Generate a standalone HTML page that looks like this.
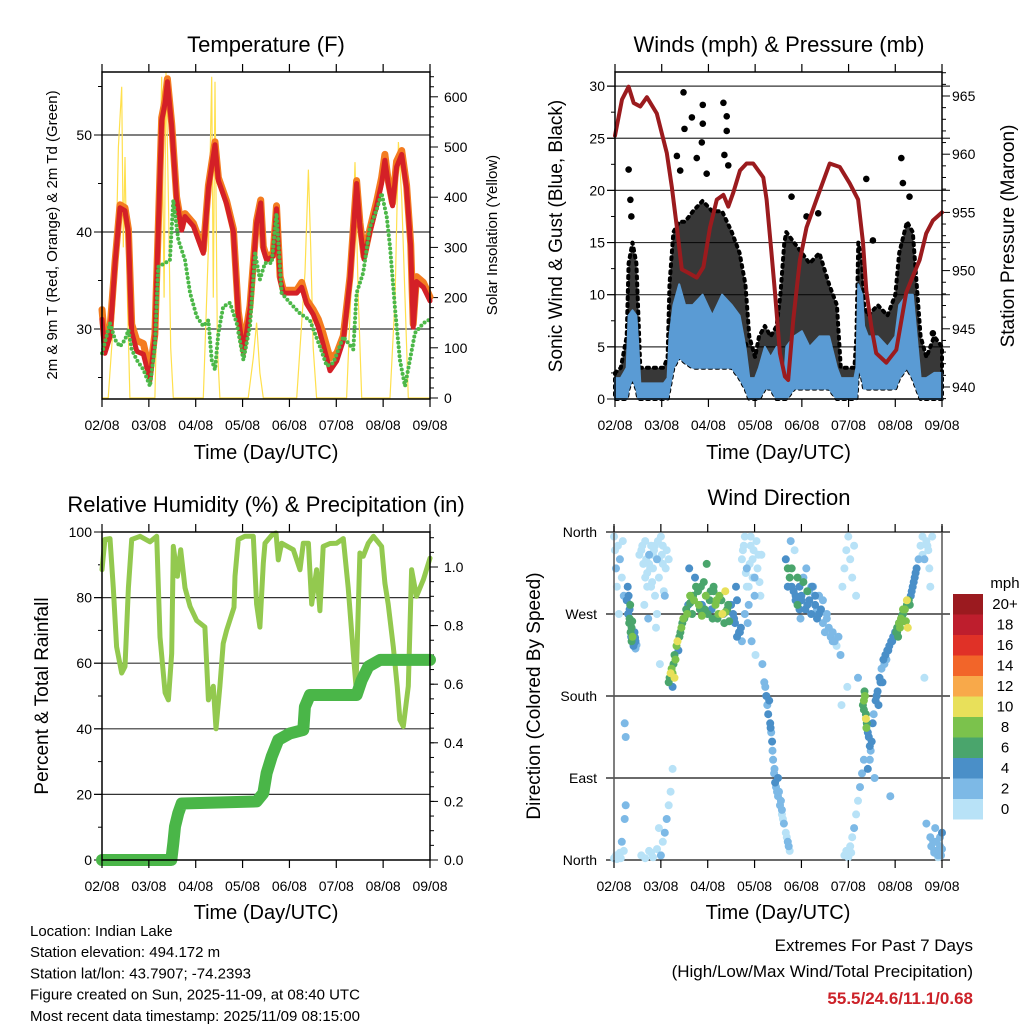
<!DOCTYPE html>
<html><head><meta charset="utf-8"><style>
html,body{margin:0;padding:0;background:#fff}
svg{display:block;font-family:"Liberation Sans",sans-serif}
</style></head><body>
<svg id="root" width="1024" height="1024" viewBox="0 0 1024 1024"></svg>
<script>
// ---------- Temperature panel data ----------
const tempHours=[0,1.5,4.1,6.7,9.2,11.8,13.5,15.2,17.8,21.2,24.6,27.1,28.8,30.6,32.3,33.5,35.7,38.2,40.8,42.5,46.8,51.9,54.5,57.9,59.6,63.8,67.3,69.8,72.4,75.8,79.2,81.3,82.6,84.3,87.7,89.4,91.2,92.9,99.7,102.3,104.8,108.2,110.8,113.3,116.8,120.2,123.6,127,130.4,132.1,134.2,137.2,140.7,143.2,144.9,146.6,148.8,150.9,153.5,156,158.1,159.4,161.1,164.6,168];
const temp2m=[31,27.5,29.2,36.8,42.5,42.2,40,29.7,27.7,27.4,24.7,29.2,40,51.5,53.3,55.5,50.9,43.3,40.2,41.6,40.6,37.8,44.5,49,45.3,42.9,40,31.3,27.5,32,40.9,43,38.2,37.1,37.5,42.4,35.1,33.7,33.7,34.3,32.6,31.5,30.2,28.4,25.7,26.7,28.8,35.1,45,40.6,37.2,40,42.7,45,47.4,45,42.7,46.7,48,44.5,38.5,30.2,34.9,34.3,32.9];
const temp9m=[32,28.5,30,37,42.8,42.5,40.3,30.5,28.8,28.5,25.5,29.5,40.3,51.8,53.6,55.8,51.2,43.6,40.5,41.9,40.9,38.1,44.8,49.3,45.6,43.2,40.3,31.8,28,32.4,41.2,43.3,38.5,37.4,37.8,42.7,35.4,34,34,34.8,33,32,31,29.5,27,27.5,29.3,35.4,45.3,41,37.5,40.3,43.2,45.6,48,45.3,43,47.3,48.4,44.8,38.8,30.5,35.4,34.8,33.3];
const dewHours=[0,4.1,6.7,9.2,11.8,13.5,15.2,17.8,21.2,24.6,27.1,28.8,32.3,34.8,36.5,39.1,42.5,45.1,48.5,51.9,54.5,56.2,57.9,59.6,62.1,65.5,69,72.4,75.8,78.4,80.9,83.5,86.9,89.4,92,96.3,101.4,106.5,111.6,115.1,118.5,123.6,128.7,130.4,133.8,137.2,140.7,143.2,145.8,147.5,150.1,152.6,155.2,157.7,160.3,164.6,168];
const dewPoint=[27.5,30.6,28.9,28.2,28.9,29.9,27.9,26.8,25.8,24.1,28.2,36.4,36.8,37.1,43.3,39.2,37.1,33.7,31.3,30.3,30.9,26.8,25.8,29.6,32.3,32.7,30.6,26.8,30.3,37.8,35.1,36.8,36.8,41.9,33.7,32.7,31.6,30.9,28.2,26.2,26.5,29.2,27.9,33.7,35.8,40.5,42.3,44,41.6,38.5,32,26.8,24.1,26.8,29.6,30.6,31];
const solarHours=[0,3.2,6.7,8.4,10.1,10.9,11.8,13,14.3,27.1,28.8,30.6,31.8,32.8,34,35.2,36.5,51.9,54.5,56.2,57,57.9,59.1,60.4,74.9,77.5,79.2,80.9,82.6,99.7,102.3,104,105.7,106.9,108.2,109.9,125.3,127.9,129.6,131.3,133,147.5,150.1,151.8,153.5,155.2,156.9,168];
const solarValues=[0,0,200,500,620,300,480,200,0,0,300,640,200,650,400,100,0,0,300,640,200,630,100,0,0,80,150,50,0,0,150,250,455,300,100,0,0,250,470,200,0,0,200,510,400,200,0,0];
const dayLabels=['02/08','03/08','04/08','05/08','06/08','07/08','08/08','09/08'];
const tempTicks=[30,40,50];
const solarTicks=[0,100,200,300,400,500,600];
// ---------- Wind panel data ----------
const windHours=[0,3,6,7,9,11,12,13,15,20,25,27,28,30,33,36,40,45,50,55,60,64,67,69,72,74,77,80,83,85,87,88,92,96,100,105,110,114,116,120,123,124,125,127,128,130,135,140,144,146,150,153,155,157,160,164,168];
const windHigh=[2,2,3,8,8.5,8,5,1.5,1.5,1.5,1.5,2,6,9,11,9,9,10,8,10,9,8,5,2,2,3,5,4,5,3,2,5,6,6.5,5,6,6,3,2,2,2,3,11,10,7,6,6,5,6,9,10,10,6,2,2,2.5,2.5];
const windLow=[0,0,0,1,2,1,0,0,0,0,0,0,1,3,4,3.5,3,3,3,3,3,2,1,0,0,0,1,1,0,0,0,0,1,1,1,1,1,0,0,0,0,0,3,2,1,1,1,1,1,2,3,2,1,0,0,0,0];
const gustTop=[2.5,3,6,13,15,13,8,3,3,3,3,4,11,16,17,17,18,19,18,18,16,14,11,6,4,6,7,6,7,10,15,16,15,14,13,14,11,9,3,3,3,6,15,13,9,8,9,8,10,14,17,16,11,6,4,6,5];
const gustPeakHours=[35.2,35.7,39.5,45.1,45.1,44.6,55.7,57.4,57.4,31.8,42,56.2,7,147.1,129.1,90.7,147.9,104.4,33.5,47.1,58.2,7.9,8.4,98.4,151.3,132.5,163.3,66.8];
const gustPeakValues=[29.4,25.9,27,28.2,26.4,24.6,28.4,27.1,25.7,23.3,23.1,23.4,22,23.1,21.1,19.4,20.7,17.8,21.9,21.6,22.4,19.1,17.5,17.5,19.4,15.2,6.3,5.2];
const pressHours=[0,3.6,7,9.6,13,16.4,21.5,26.6,29.2,31.8,34.3,37.7,42,45.4,48.8,52.3,55.7,58.2,60.8,64.2,67.6,71,76.2,77.9,80.4,82.2,84.7,87.3,89,91.6,95,98.4,103.5,110.3,115.5,120.6,124.9,127.4,129.1,131.7,134.2,139.4,144.5,149.6,153,156.5,159.9,163.3,168];
const pressValues=[961.6,964.7,965.8,964.4,964.1,964.9,963.5,960.1,957.2,953.7,950.1,949.8,949.4,950.3,953.7,956.1,956.5,955.5,956.7,958.6,959.2,959.2,958,956.1,951.5,948.1,942.9,940.9,940.6,945.8,950.9,953.7,956.1,959.2,958.9,957.5,956.1,952.4,948.3,945.2,942.9,942.1,943.2,948.1,949.5,950.9,953.2,954.3,955];
const windTicks=[0,5,10,15,20,25,30];
const pressTicks=[940,945,950,955,960,965];
// ---------- RH panel data ----------
const rhHours=[0,1.5,4.1,5.8,7.5,10.1,11.8,13.5,15.2,19.5,24.6,28,29.7,32.3,34,35.7,36.5,38.6,40.3,42.5,45.1,48.5,52.7,54.5,57,58.4,60.4,62.1,63.8,67.6,68.1,69.8,73.2,77.5,79.2,80.9,82.6,83.5,86.9,89.1,90.3,92,98,101.4,103.1,105.7,107.4,109.9,111.6,113.3,116.8,120.2,123.6,126.1,128.7,130.1,132.1,133.8,136.4,139,143.2,144.9,146.6,149.2,151.2,152.6,154.3,156.9,158.6,161.1,164.6,168];
const rhValues=[88.5,97.7,98,83,65,57,59,83,97.7,98.7,97,98.7,68,51,48.8,63,95.6,86.5,94.6,83,77.3,73,71,48.8,53,40,53,66,70,77,86.5,97.7,98.7,98.7,78,71,90.5,96.6,99,99.7,91.5,96.6,94.6,88.5,96.6,96.6,78,88.5,76,95.6,96.5,96.6,98,83,63,53,93.6,92.6,96.6,98.7,95.6,84.4,78,65,53,42.7,40.7,53,88.5,80.4,85.5,92];
const precipHours=[0,35.5,36.5,37.4,39.1,40.8,79.2,82.6,84.3,86.9,90.3,96.3,103.1,103.9,106.5,130.4,133,136.4,142.4,168];
const precipValues=[0,0,0.057,0.114,0.16,0.193,0.2,0.228,0.296,0.353,0.41,0.432,0.444,0.523,0.563,0.563,0.614,0.66,0.683,0.683];
const rhTicks=[0,20,40,60,80,100];
const precipTicks=[0,0.2,0.4,0.6,0.8,1.0];
// ---------- Wind direction panel data ----------
const dirHours=[0,0.5,1,1.5,2,3,4,4.5,5,2.5, 0,1,2,3,4,5,1.5,3.5,5.5,6, 7,7.5,8,8,8.5,9,9,9.5,10,10.5,11,11,5.5,6,
14,15,16,17,18,19,20,21,22,23,24,25,26,27,15.5,17.5,19.5,21.5,23.5,25.5, 14,16,18,20,22,24,25,26,27,28,29,30,23,19,
28,28.5,29,29.5,30,30.5,31,31.5,32,32.5,33,33.5,34,34.5,35,35.5,30,31,
36,37,38,39,40,41,42,43,44,45,46,47,48,49,50,51,52,53,54,55,56,57,58,59,60,61,62,63,64,65,38.5,41.5,44.5,47.5,50.5,53.5,56.5,59.5,62.5,65.5,
66,67,68,69,70,71,72,73,74,75,68.5,70.5,72.5, 76,77,78,79,80,80.5,81,81.5,82,82.5,83,84,85,86,87,88,89,90,79.5,84.5,
88,89,90,91,92,93,94,95,96,97,98,99,100,101,102,103,104,105,106,107,108,109,110,111,112,90.5,92.5,95.5,98.5,101.5,
112,113,114,115,116,117,118,119,120,121,122,123,124,125,116.5,119.5, 118,119,120,121,122,123,124,125,126,127,128,121.5,
127.5,128,128,128.5,129,129,129.5,130,130.5,131,128.3,129.3, 130,131,132,133,134,135,136,137,138,139,140,141,142,143,144,145,146,133.5,137.5,141.5,
145,146,147,148,149,150,151,152,153,154,155,156,150.5,148.5, 157,158,159,160,161,162,163,164,165,166,167,168,160,162,164,166,168,159,
13,14.5,16.5,18.5,20.5,22.5,24.5,26.5,28,17,19,21,23,25,16,18,20,22,
65.5,66.5,67.5,68,69.5,70,71.5,72,73.5,74.5,75.5,67,69,71,
89,91,93,95,97,99,101,103,105,107,109,94,96,100,104,
37.5,40.5,43.5,46.5,49.5,52.5,55.5,58.5,61.5,64.5,39,45,51,57,63,
77.5,78.5,80.2,81.2,82.2,83.5,85.5,86.5,88.5,89.5,84,86,
131.5,132.5,134.5,136.5,138.5,140.5,142.5,144.5,135.5,139.5,
158,160.5,161.5,163.5,165.5,167,167.5,162.5,164.5,166.5,
6.5,7.2,7.8,8.3,8.8,9.3,9.8,10.3,10.8,11.5,
145.5,146.5,147.5,148,149.5,150,151.5,152.5,153.5,154.5];
const dirDegrees=[355,340,320,300,345,330,310,350,290,270, 2,5,3,8,20,10,1,2,45,60, 300,290,275,265,250,255,240,245,235,250,240,232,150,135,
340,325,350,315,335,300,320,345,330,310,355,325,290,340,280,265,305,255,215,295, 5,2,10,3,12,5,20,30,45,60,75,100,35,8,
195,200,205,210,205,215,225,220,235,240,230,245,250,255,260,265,190,200,
265,275,280,290,270,285,300,295,275,280,305,290,270,285,275,300,280,265,290,285,270,295,275,262,280,270,260,285,250,255,320,310,300,325,265,270,260,280,300,240,
340,355,320,300,345,330,310,350,335,290,260,240,225, 215,195,180,160,150,140,130,110,95,85,80,70,60,55,40,30,20,10,175,75,
330,320,310,300,295,285,280,300,290,310,275,295,285,270,300,280,265,290,275,260,250,270,255,245,240,350,340,265,320,300,
250,240,235,245,225,300,320,340,355,330,310,345,290,200,170,190, 5,10,3,15,25,35,50,65,80,95,110,8,
170,175,165,180,160,155,150,140,135,125,185,145, 100,110,130,160,175,185,200,210,220,225,230,235,240,245,250,255,260,90,195,70,
250,260,265,270,275,280,285,290,300,310,320,330,255,262, 345,355,330,350,340,300,355,10,20,5,15,30,40,25,8,3,12,200,
335,345,330,320,340,350,335,320,330,300,345,290,330,345,310,325,335,270,
330,345,315,300,325,355,340,290,320,305,335,270,280,310,
300,320,290,275,305,280,300,290,270,285,265,310,285,295,275,
270,290,280,275,295,285,270,280,265,250,282,268,295,272,245,
190,170,145,120,100,75,65,45,25,15,90,50,
120,150,180,195,215,230,240,250,170,220,
335,345,320,20,10,25,5,15,35,18,
285,270,260,280,245,262,250,238,244,236,
245,255,268,275,262,285,280,295,305,315];
const dirSpeeds=[1,1,2,1,1,2,1,1,2,1, 1,1,0,1,2,1,0,1,2,2, 4,5,4,6,6,7,6,8,5,4,4,3,3,2,
1,1,1,1,2,1,1,1,2,1,1,1,2,1,1,2,1,1,1,1, 0,1,0,1,1,2,1,3,2,1,1,1,0,0,
6,7,10,9,8,7,6,9,8,10,5,7,6,8,7,9,5,10,
7,6,5,8,6,9,7,6,7,5,6,8,6,7,5,7,9,6,8,6,5,10,7,6,5,4,4,5,4,4,4,5,6,6,7,8,7,5,4,3,
1,1,2,1,1,1,2,1,1,1,2,3,1, 3,2,4,4,4,3,4,2,3,4,3,2,3,2,2,1,2,1,4,3,
4,6,7,5,4,5,6,4,5,3,4,6,5,4,3,5,4,3,4,3,2,2,3,2,2,2,1,3,2,4,
2,2,1,2,2,1,1,1,1,1,1,1,1,2,1,1, 1,1,0,1,1,2,1,1,2,3,3,1,
7,8,6,9,7,10,6,5,4,4,7,9, 4,3,4,3,4,5,4,3,5,4,4,5,4,5,4,6,5,2,4,2,
7,8,9,7,8,6,7,5,5,4,4,3,10,9, 1,1,2,1,1,1,1,2,3,3,2,4,2,3,2,1,2,1,
1,1,1,1,1,1,1,1,1,1,1,1,1,1,1,1,1,1,
1,1,1,1,1,1,1,2,1,1,1,2,2,1,
5,6,5,4,6,5,3,4,5,2,3,7,4,3,2,
8,7,9,6,7,8,10,6,5,4,6,9,7,8,5,
2,3,4,3,2,3,2,1,1,2,4,1,
3,4,5,4,3,4,5,6,4,3,
1,1,1,2,3,3,2,2,3,1,
5,4,6,7,5,6,4,5,4,3,
6,8,7,9,8,10,6,4,5,4];
const dirTickLabels=['North','East','South','West','North'];
const dirTickValues=[0,90,180,270,360];
const speedLabels=['0','2','4','6','8','10','12','14','16','18','20+'];
const speedColors=['#b8e2f7','#7db9e6','#4a8fc8','#4aa56c','#7bc24c','#e8e05a','#f8a94a','#f26529','#e03127','#be1e2d','#9b1a1f'];

const NS='http://www.w3.org/2000/svg';
const root=document.getElementById('root');
function el(tag,attrs,parent,text){const e=document.createElementNS(NS,tag);for(const k in attrs)e.setAttribute(k,attrs[k]);if(text!==undefined)e.textContent=text;(parent||root).appendChild(e);return e;}
function grp(name){const g=el('g',{});


return g;}
function pathFrom(xs,ys,fx,fy){let d='';for(let i=0;i<xs.length;i++){if(ys[i]===undefined)continue;d+=(d?'L':'M')+fx(xs[i]).toFixed(1)+','+fy(ys[i]).toFixed(1);}return d;}
function txt(g,x,y,s,size,anchor,name,extra){const t=el('text',Object.assign({x:x,y:y,'font-size':size,'text-anchor':anchor||'middle',fill:'#000'},extra||{}),g,s);


return t;}
function rtxt(g,x,y,s,size,name){const t=el('text',{x:0,y:0,'font-size':size,'text-anchor':'middle',transform:`translate(${x},${y}) rotate(-90)`},g,s);


return t;}
function timeAxis(g,x0,x1,yb,ytop,labelY,titleY){
  const X=h=>x0+h/168*(x1-x0);
  for(let i=0;i<dayLabels.length;i++){const x=X(i*24);
    el('line',{x1:x,y1:yb,x2:x,y2:yb+8,stroke:'#000','stroke-width':1.2},g);
    el('line',{x1:x,y1:ytop,x2:x,y2:ytop-8,stroke:'#000','stroke-width':1.2},g);
    txt(g,x,labelY,dayLabels[i],14,'middle','x-tick-label');}
  txt(g,(x0+x1)/2,titleY,'Time (Day/UTC)',20,'middle','x-axis-title');
  return X;}

// ===== Panel 1: Temperature =====
(function(){
const g=grp('temperature-panel');
const x0=102,x1=430,y0=72,y1=399;
const X=h=>x0+h/168*(x1-x0);
const YT=v=>329-(v-30)*9.7;
const YS=v=>398-v*0.502;
txt(g,266,52,'Temperature (F)',22,'middle','temperature-title');
tempTicks.forEach(v=>{el('line',{x1:x0,y1:YT(v),x2:x1,y2:YT(v),stroke:'#333','stroke-width':1.2},g);
 el('line',{x1:x0-8,y1:YT(v),x2:x0,y2:YT(v),stroke:'#000'},g);
 txt(g,x0-10,YT(v)+5,String(v),14,'end','y-tick-label');});
[25,35,45,55].forEach(v=>el('line',{x1:x0-4,y1:YT(v),x2:x0,y2:YT(v),stroke:'#000'},g));
solarTicks.forEach(v=>{el('line',{x1:x1,y1:YS(v),x2:x1+8,y2:YS(v),stroke:'#000'},g);
 txt(g,x1+14,YS(v)+5,String(v),14,'start','right-tick-label');});
for(let v=20;v<=640;v+=20)if(v%100)el('line',{x1:x1,y1:YS(v),x2:x1+4,y2:YS(v),stroke:'#000'},g);
const s=el('path',{d:pathFrom(solarHours,solarValues,X,YS),fill:'none',stroke:'#ffe04d','stroke-width':1.2},g);


const o=el('path',{d:pathFrom(tempHours,temp9m,X,YT),fill:'none',stroke:'#f47c20','stroke-width':7,'stroke-linejoin':'round','stroke-linecap':'round'},g);


const r=el('path',{d:pathFrom(tempHours,temp2m,X,YT),fill:'none',stroke:'#d42027','stroke-width':5,'stroke-linejoin':'round','stroke-linecap':'round'},g);


const d=el('path',{d:pathFrom(dewHours,dewPoint,X,YT),fill:'none',stroke:'#4cb848','stroke-width':4,'stroke-dasharray':'0 4.5','stroke-linecap':'round','stroke-linejoin':'round'},g);


el('rect',{x:x0,y:y0,width:x1-x0,height:y1-y0,fill:'none',stroke:'#000','stroke-width':1.5},g);
timeAxis(g,x0,x1,y1,y0,430,459);
rtxt(g,57,235,'2m & 9m T (Red, Orange) & 2m Td (Green)',15,'left-axis-title');
rtxt(g,497,235,'Solar Insolation (Yellow)',15,'right-axis-title');
})();

// ===== Panel 2: Winds & Pressure =====
(function(){
const g=grp('winds-panel');
const x0=615,x1=942,y0=72,y1=399;
const X=h=>x0+h/168*(x1-x0);
const YW=v=>399-v*10.43;
const YP=p=>96+(965-p)*11.64;
txt(g,779,52,'Winds (mph) & Pressure (mb)',22,'middle','winds-title');
windTicks.forEach(v=>{if(v>0)el('line',{x1:x0-8,y1:YW(v),x2:x1+8,y2:YW(v),stroke:'#333','stroke-width':1.2},g);
 el('line',{x1:x0-8,y1:YW(v),x2:x0,y2:YW(v),stroke:'#000'},g);
 txt(g,x0-10,YW(v)+5,String(v),14,'end','y-tick-label');});
for(let v=2.5;v<30;v+=5)el('line',{x1:x0-4,y1:YW(v),x2:x0,y2:YW(v),stroke:'#000'},g);
pressTicks.forEach(p=>{el('line',{x1:x1,y1:YP(p),x2:x1+8,y2:YP(p),stroke:'#000'},g);
 txt(g,x1+10,YP(p)+5,String(p),14,'start','right-tick-label');});
for(let p=939;p<=967;p++)if(p%5)el('line',{x1:x1,y1:YP(p),x2:x1+4,y2:YP(p),stroke:'#000'},g);
// gust cloud between sonic-wind low and gust top
let d='';
for(let i=0;i<windHours.length;i++)d+=(d?'L':'M')+X(windHours[i]).toFixed(1)+','+YW(gustTop[i]).toFixed(1);
for(let i=windHours.length-1;i>=0;i--)d+='L'+X(windHours[i]).toFixed(1)+','+YW(windLow[i]).toFixed(1);
const gc=el('path',{d:d+'Z',fill:'#000','fill-opacity':0.78,stroke:'#000','stroke-width':4,'stroke-dasharray':'2 5','stroke-linecap':'round','stroke-linejoin':'round'},g);


for(let i=0;i<gustPeakHours.length;i++){const c=el('circle',{cx:X(gustPeakHours[i]),cy:YW(gustPeakValues[i]),r:3.3,fill:'#000'},g);

}
let b='';
for(let i=0;i<windHours.length;i++)b+=(b?'L':'M')+X(windHours[i]).toFixed(1)+','+YW(windHigh[i]).toFixed(1);
for(let i=windHours.length-1;i>=0;i--)b+='L'+X(windHours[i]).toFixed(1)+','+YW(windLow[i]).toFixed(1);
const bl=el('path',{d:b+'Z',fill:'#5a9bd4',stroke:'#5a9bd4','stroke-width':2,'stroke-linejoin':'round'},g);


const pl=el('path',{d:pathFrom(pressHours,pressValues,X,YP),fill:'none',stroke:'#9b1b1e','stroke-width':4,'stroke-linejoin':'round','stroke-linecap':'round'},g);


el('rect',{x:x0,y:y0,width:x1-x0,height:y1-y0,fill:'none',stroke:'#000','stroke-width':1.5},g);
timeAxis(g,x0,x1,y1,y0,430,459);
rtxt(g,562,236,'Sonic Wind & Gust (Blue, Black)',19,'left-axis-title');
rtxt(g,1014,236,'Station Pressure (Maroon)',19,'right-axis-title');
})();

// ===== Panel 3: RH & precip =====
(function(){
const g=grp('humidity-panel');
const x0=102,x1=430,y0=532,y1=860;
const X=h=>x0+h/168*(x1-x0);
const YR=v=>860-v*3.28;
const YQ=v=>860-v*293;
txt(g,266,512,'Relative Humidity (%) & Precipitation (in)',22,'middle','humidity-title');
rhTicks.forEach(v=>{if(v>0&&v<100)el('line',{x1:x0-8,y1:YR(v),x2:x1,y2:YR(v),stroke:'#333','stroke-width':1.2},g);
 el('line',{x1:x0-8,y1:YR(v),x2:x0,y2:YR(v),stroke:'#000'},g);
 txt(g,x0-10,YR(v)+5,String(v),14,'end','y-tick-label');});
for(let v=10;v<100;v+=20)el('line',{x1:x0-4,y1:YR(v),x2:x0,y2:YR(v),stroke:'#000'},g);
precipTicks.forEach(v=>{el('line',{x1:x1,y1:YQ(v),x2:x1+8,y2:YQ(v),stroke:'#000'},g);
 txt(g,x1+14,YQ(v)+5,v.toFixed(1),14,'start','right-tick-label');});
for(let v=0.05;v<1.12;v+=0.05)el('line',{x1:x1,y1:YQ(v),x2:x1+4,y2:YQ(v),stroke:'#000'},g);
const rl=el('path',{d:pathFrom(rhHours,rhValues,X,YR),fill:'none',stroke:'#93c94f','stroke-width':5,'stroke-linejoin':'round','stroke-linecap':'round'},g);


const pr=el('path',{d:pathFrom(precipHours,precipValues,X,YQ),fill:'none',stroke:'#4ab648','stroke-width':12,'stroke-linejoin':'round','stroke-linecap':'round'},g);


el('rect',{x:x0,y:y0,width:x1-x0,height:y1-y0,fill:'none',stroke:'#000','stroke-width':1.5},g);
timeAxis(g,x0,x1,y1,y0,891,919);
rtxt(g,48,696,'Percent & Total Rainfall',19,'left-axis-title');
})();

// ===== Panel 4: Wind Direction =====
(function(){
const g=grp('wind-direction-panel');
const x0=614,x1=942,y0=532,y1=860;
const X=h=>x0+h/168*(x1-x0);
const YD=d=>860-d*328/360;
txt(g,779,505,'Wind Direction',22,'middle','wind-direction-title');
dirTickValues.forEach((v,i)=>{el('line',{x1:x0-8,y1:YD(v),x2:x1+8,y2:YD(v),stroke:'#111','stroke-width':1.3},g);
 txt(g,x0-17,YD(v)+5,dirTickLabels[i],14,'end','y-tick-label');});
const order=dirSpeeds.map((s,i)=>i).sort((a,b)=>dirSpeeds[a]-dirSpeeds[b]);
order.forEach(i=>{if(dirHours[i]===undefined||dirDegrees[i]===undefined)return;
 const ci=Math.min(10,Math.floor(dirSpeeds[i]/2));
 const c=el('circle',{cx:X(dirHours[i]).toFixed(1),cy:YD(dirDegrees[i]).toFixed(1),r:4,fill:speedColors[ci]},g);
 
 });
el('line',{x1:x0,y1:y0-6,x2:x0,y2:y1,stroke:'#555','stroke-width':1.5},g);
el('line',{x1:x1,y1:y0-6,x2:x1,y2:y1,stroke:'#555','stroke-width':1.5},g);
timeAxis(g,x0,x1,y1,y0,891,919);
rtxt(g,540,696,'Direction (Colored By Speed)',19,'left-axis-title');
// legend
const lg=grp('speed-legend');
txt(lg,1005,588,'mph',15,'middle','legend-title');
speedColors.forEach((c,i)=>{const y=799-i*20.5;
 const r=el('rect',{x:953,y:y,width:30,height:20.5,fill:c},lg);
 
 
 txt(lg,1005,y+15,speedLabels[i],15,'middle','legend-label');});
})();

// ===== Footer text =====
(function(){
const g=grp('station-info');
const lines=['Location: Indian Lake','Station elevation: 494.172 m','Station lat/lon: 43.7907; -74.2393','Figure created on Sun, 2025-11-09, at 08:40 UTC','Most recent data timestamp: 2025/11/09 08:15:00'];
lines.forEach((s,i)=>txt(g,30,936+i*21.2,s,15,'start','station-info-line'));
const e=grp('extremes');
txt(e,973,951,'Extremes For Past 7 Days',17,'end','extremes-title');
txt(e,973,977,'(High/Low/Max Wind/Total Precipitation)',17,'end','extremes-subtitle');
txt(e,973,1004,'55.5/24.6/11.1/0.68',17,'end','extremes-values',{fill:'#cc2229','font-weight':'bold'});
})();
</script>
</body></html>
